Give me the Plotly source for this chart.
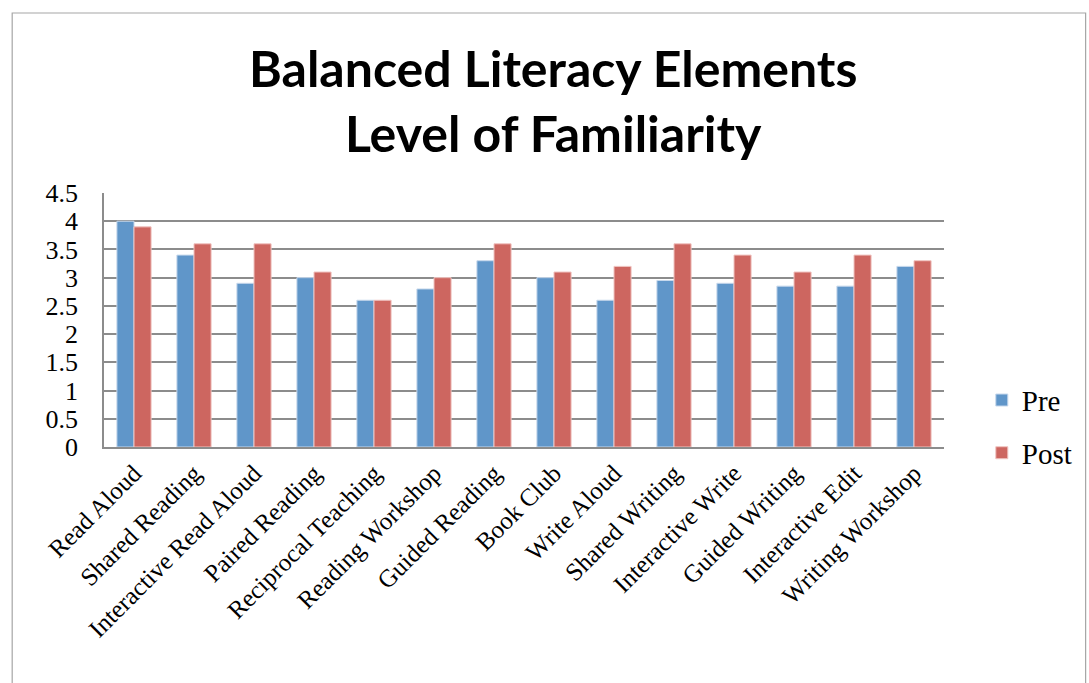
import plotly.graph_objects as go

categories = [
    "Read Aloud", "Shared Reading", "Interactive Read Aloud", "Paired Reading",
    "Reciprocal Teaching", "Reading Workshop", "Guided Reading", "Book Club",
    "Write Aloud", "Shared Writing", "Interactive Write", "Guided Writing",
    "Interactive Edit", "Writing Workshop",
]
pre_values = [4.0, 3.4, 2.9, 3.0, 2.6, 2.8, 3.3, 3.0, 2.6, 2.95, 2.9, 2.85, 2.85, 3.2]
post_values = [3.9, 3.6, 3.6, 3.1, 2.6, 3.0, 3.6, 3.1, 3.2, 3.6, 3.4, 3.1, 3.4, 3.3]
y_ticks = [0, 0.5, 1, 1.5, 2, 2.5, 3, 3.5, 4, 4.5]
y_tick_text = ["0", "0.5", "1", "1.5", "2", "2.5", "3", "3.5", "4", "4.5"]
chart_title = "Balanced Literacy Elements<br>Level of Familiarity"

SERIF = "Liberation Serif, DejaVu Serif, serif"
TITLE_FONT = "Lato, Open Sans, sans-serif"
GRID = "#8c8c8c"

fig = go.Figure()
fig.add_trace(go.Bar(
    name="Pre", x=categories, y=pre_values, legendgroup="pre",
    marker=dict(color="#6096C9", line=dict(color="#c7d8ec", width=1)),
))
fig.add_trace(go.Bar(
    name="Post", x=categories, y=post_values, legendgroup="post",
    marker=dict(color="#CD6660", line=dict(color="#f0c4c1", width=1)),
))

fig.update_layout(
    width=1089, height=683,
    margin=dict(l=104, r=143, t=193, b=236),
    paper_bgcolor="white", plot_bgcolor="white",
    barmode="group", bargap=0.43, bargroupgap=0,
    showlegend=True,
    legend=dict(
        x=1.045, y=0.08, xanchor="left", yanchor="middle",
        font=dict(family=SERIF, size=29, color="black"),
        traceorder="grouped", tracegroupgap=12,
        itemwidth=30,
        bgcolor="rgba(0,0,0,0)",
    ),
    annotations=[dict(
        text=f"<b>{chart_title}</b>", xref="paper", yref="paper",
        x=0.535, y=1.365, xanchor="center", yanchor="middle", showarrow=False,
        font=dict(family=TITLE_FONT, size=50, color="black"),
    )],
    shapes=[dict(
        type="rect", xref="paper", yref="paper",
        x0=-0.1093, x1=1.1686, y0=-0.98, y1=1.7087,
        line=dict(color="#a6a6a6", width=1.2), fillcolor="rgba(0,0,0,0)",
        layer="below",
    )],
)

fig.update_yaxes(
    range=[0, 4.5], tickvals=y_ticks, ticktext=y_tick_text,
    showgrid=True, gridcolor=GRID, gridwidth=1.5,
    showline=True, linecolor=GRID, linewidth=1.5,
    ticks="", zeroline=False, ticklabelstandoff=19,
    tickfont=dict(family=SERIF, size=26, color="black"),
)
fig.update_xaxes(
    showline=True, linecolor=GRID, linewidth=1.5,
    tickangle=-45, ticks="", ticklabelstandoff=0,
    tickfont=dict(family=SERIF, size=25, color="black"),
)

fig.write_html("out.html")
